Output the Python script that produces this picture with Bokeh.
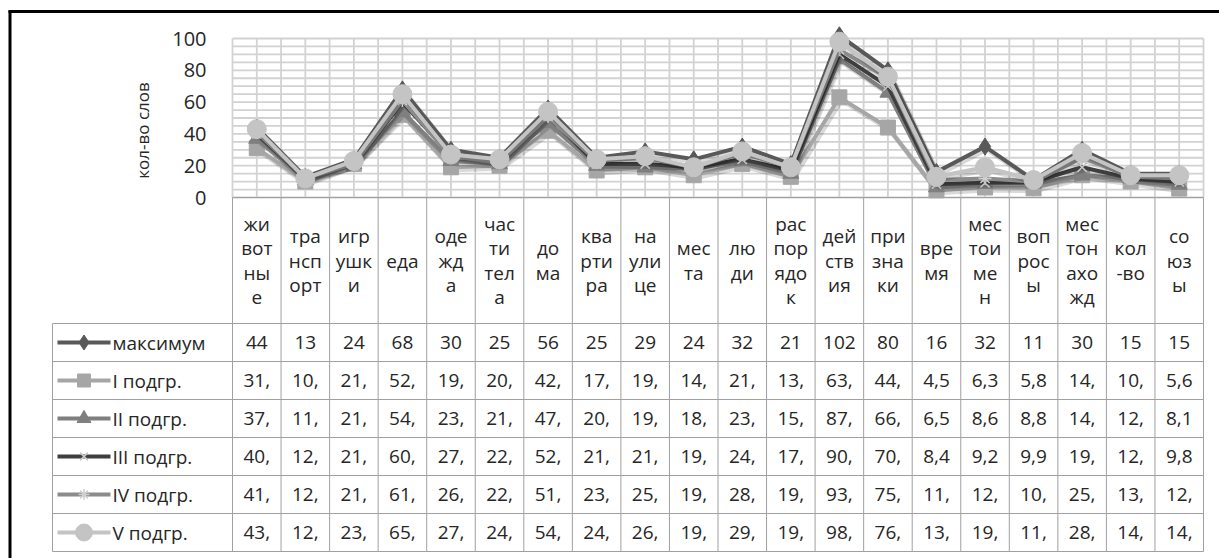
from bokeh.plotting import figure
from bokeh.models import Range1d
from bokeh.core.properties import value
from bokeh.embed import file_html
from bokeh.resources import INLINE

# ---------------- data ----------------
categories = ["животные", "транспорт", "игрушки", "еда", "одежда", "части тела", "дома",
              "квартира", "на улице", "места", "люди", "распорядок", "действия", "признаки",
              "время", "местоимен", "вопросы", "местонахожд", "кол-во", "союзы"]
header_lines = [["жи", "вот", "ны", "е"], ["тра", "нсп", "орт"], ["игр", "ушк", "и"], ["еда"],
                ["оде", "жд", "а"], ["час", "ти", "тел", "а"], ["до", "ма"], ["ква", "рти", "ра"],
                ["на", "ули", "це"], ["мес", "та"], ["лю", "ди"], ["рас", "пор", "ядо", "к"],
                ["дей", "ств", "ия"], ["при", "зна", "ки"], ["вре", "мя"], ["мес", "тои", "ме", "н"],
                ["воп", "рос", "ы"], ["мес", "тон", "ахо", "жд"], ["кол", "-во"], ["со", "юз", "ы"]]
series_names = ["максимум", "I подгр.", "II подгр.", "III подгр.", "IV подгр.", "V подгр."]
maximum = [44, 13, 24, 68, 30, 25, 56, 25, 29, 24, 32, 21, 102, 80, 16, 32, 11, 30, 15, 15]
sub1 = [31, 10, 21, 52, 19, 20, 42, 17, 19, 14, 21, 13, 63, 44, 4.5, 6.3, 5.8, 14, 10, 5.6]
sub2 = [37, 11, 21, 54, 23, 21, 47, 20, 19, 18, 23, 15, 87, 66, 6.5, 8.6, 8.8, 14, 12, 8.1]
sub3 = [40, 12, 21, 60, 27, 22, 52, 21, 21, 19, 24, 17, 90, 70, 8.4, 9.2, 9.9, 19, 12, 9.8]
sub4 = [41, 12, 21, 61, 26, 22, 51, 23, 25, 19, 28, 19, 93, 75, 11, 12, 10, 25, 13, 12]
sub5 = [43, 12, 23, 65, 27, 24, 54, 24, 26, 19, 29, 19, 98, 76, 13, 19, 11, 28, 14, 14]
y_ticks = [0, 20, 40, 60, 80, 100]
y_title = "кол-во слов"

series = [maximum, sub1, sub2, sub3, sub4, sub5]
line_colors = ["#595959", "#a6a6a6", "#7f7f7f", "#3f3f3f", "#8c8c8c", "#c4c4c4"]
markers = ["diamond", "square", "triangle", "x", "asterisk", "circle"]
marker_fill = ["#595959", "#a6a6a6", "#7f7f7f", "#c8c8c8", "#d0d0d0", "#c4c4c4"]
marker_sizes = [17, 15, 16, 13, 13, 19]

# ---------------- layout (canvas pixels) ----------------
W, H = 1219, 558
X0, CW = 232.0, 48.55      # left edge of plot area, width of one category
Y0, YS = 197.0, 1.59       # canvas y of value 0, pixels per unit
N = len(categories)

def dx(cx):
    return (cx - X0) / CW

def dy(cy):
    return (Y0 - cy) / YS

FONT = value("Open Sans")
TXT = "#262626"
GRID = "#d2d2d2"
TBL = "#a0a0a0"

p = figure(width=W, height=H, output_backend="svg", toolbar_location=None,
           x_range=Range1d(dx(0), dx(W)), y_range=Range1d(dy(H), dy(0)),
           x_axis_type=None, y_axis_type=None, min_border=0)
p.outline_line_color = None
p.background_fill_color = "white"
p.border_fill_color = "white"
p.xgrid.visible = False
p.ygrid.visible = False

# gridlines
hy = list(range(0, 101, 5))
p.segment(x0=[0] * len(hy), y0=hy, x1=[N] * len(hy), y1=hy, line_color=GRID, line_width=1.8)
vx = [i * 0.5 for i in range(0, 2 * N + 1)]
p.segment(x0=vx, y0=[0] * len(vx), x1=vx, y1=[100] * len(vx), line_color=GRID, line_width=1.8)

# outer frame (left and top black edges)
p.segment(x0=[dx(9.5), dx(8)], y0=[dy(10), dy(11)], x1=[dx(9.5), dx(W)], y1=[dy(H), dy(11)],
          line_color="black", line_width=3)

# y tick labels and title
p.text(x=[dx(206)] * len(y_ticks), y=y_ticks, text=[str(t) for t in y_ticks],
       text_font=FONT, text_font_size="20px", text_color=TXT,
       text_align="right", text_baseline="middle")
p.text(x=[dx(142)], y=[dy(130)], text=[y_title], angle=1.5708,
       text_font=FONT, text_font_size="17px", text_color=TXT,
       text_align="center", text_baseline="middle")

# table geometry
HEAD_TOP, HEAD_BOT = 197.0, 323.0
ROW_H = 38.0
LEG_L = 52.0
rows_top = [HEAD_BOT + k * ROW_H for k in range(len(series) + 1)]
bottom = rows_top[-1]

# table lines
bx = list(range(0, N + 1))
p.segment(x0=bx, y0=[dy(HEAD_TOP)] * len(bx), x1=bx, y1=[dy(bottom)] * len(bx),
          line_color=TBL, line_width=1)
p.segment(x0=[dx(LEG_L)], y0=[dy(HEAD_BOT)], x1=[dx(LEG_L)], y1=[dy(bottom)],
          line_color=TBL, line_width=1)
p.segment(x0=[0], y0=[0], x1=[N], y1=[0], line_color=TBL, line_width=1.2)
p.segment(x0=[dx(LEG_L)] * len(rows_top), y0=[dy(r) for r in rows_top],
          x1=[N] * len(rows_top), y1=[dy(r) for r in rows_top], line_color=TBL, line_width=1)

# header labels
LINE_H = 24.5
hx, hyy, ht = [], [], []
mid = (HEAD_TOP + HEAD_BOT) / 2
for i, lines in enumerate(header_lines):
    n = len(lines)
    for k, s in enumerate(lines):
        hx.append(i + 0.5)
        hyy.append(dy(mid + (k - (n - 1) / 2) * LINE_H))
        ht.append(s)
p.text(x=hx, y=hyy, text=ht, text_font=FONT, text_font_size="19px", text_color=TXT,
       text_align="center", text_baseline="middle")

# value cells
def cell_text(v, is_max):
    if is_max:
        return str(int(v))
    if v >= 10:
        return f"{int(v)},"
    return f"{v}".replace(".", ",")

cx_, cy_, ct_ = [], [], []
for r, vals in enumerate(series):
    yc = dy(rows_top[r] + ROW_H / 2)
    for i, v in enumerate(vals):
        cx_.append(i + 0.5)
        cy_.append(yc)
        ct_.append(cell_text(v, r == 0))
p.text(x=cx_, y=cy_, text=ct_, text_font=FONT, text_font_size="19px", text_color=TXT,
       text_align="center", text_baseline="middle")

# legend keys inside table
for r, name in enumerate(series_names):
    yc = dy(rows_top[r] + ROW_H / 2)
    p.line(x=[dx(57), dx(110)], y=[yc, yc], line_color=line_colors[r], line_width=4)
    p.scatter(x=[dx(83.5)], y=[yc], marker=markers[r], size=marker_sizes[r] - 2,
              fill_color=marker_fill[r], line_color=marker_fill[r],
              line_width=1.5 if markers[r] in ("x", "asterisk") else 1)
    p.text(x=[dx(112)], y=[yc], text=[name], text_font=FONT, text_font_size="19px",
           text_color=TXT, text_align="left", text_baseline="middle")

# series lines (with a soft shadow, as in the original)
xs = [i + 0.5 for i in range(N)]
sh_x = 2.0 / CW
sh_y = 2.5 / YS
for r, vals in enumerate(series):
    p.line(x=[x + sh_x for x in xs], y=[v - sh_y for v in vals], line_color="black",
           line_alpha=0.15, line_width=5, line_join="round")
    p.line(x=xs, y=vals, line_color=line_colors[r], line_width=4, line_join="round")
    p.scatter(x=xs, y=vals, marker=markers[r], size=marker_sizes[r],
              fill_color=marker_fill[r], line_color=marker_fill[r],
              line_width=1.5 if markers[r] in ("x", "asterisk") else 1)

open("out.html", "w").write(file_html(p, INLINE))
